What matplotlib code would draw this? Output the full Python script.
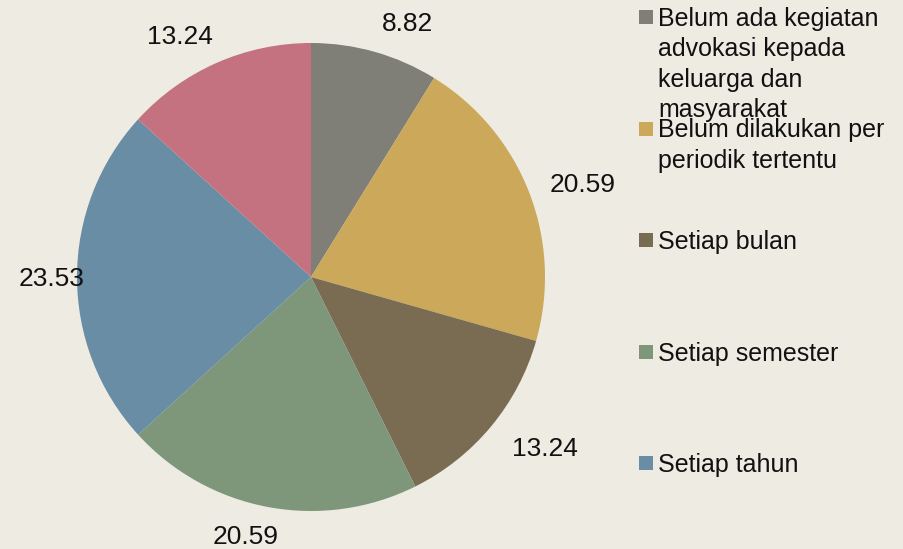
import matplotlib
matplotlib.use("Agg")
import matplotlib.pyplot as plt
import numpy as np

# values, clockwise from 12 o'clock
values = [8.82, 20.59, 13.24, 20.59, 23.53, 13.24]
legend_labels = [
    "Belum ada kegiatan\nadvokasi kepada\nkeluarga dan\nmasyarakat",
    "Belum dilakukan per\nperiodik tertentu",
    "Setiap bulan",
    "Setiap semester",
    "Setiap tahun",
]
colors = ["#7f7f77", "#cca95a", "#796c52", "#7e967a", "#688da5", "#c4727f"]

# label placement: radius factor and angle shift (deg) from the wedge middle
label_dist = [1.167, 1.227, 1.235, 1.137, 1.107, 1.175]
label_shift = [-4.9, -2.1, 3.7, -3.7, 0.0, 4.6]

bg = "#eeebe3"
W, H = 904, 549

fig = plt.figure(figsize=(W / 100, H / 100), dpi=100, facecolor=bg)
# pie centre (311, 277) px, radius 234 px
ax = fig.add_axes([(311 - 234) / W, (H - 277 - 234) / H, 468 / W, 468 / H])
ax.set_facecolor(bg)

wedges, _ = ax.pie(values, colors=colors, startangle=90, counterclock=False,
                   radius=1.0, wedgeprops=dict(linewidth=0))
ax.set_xlim(-1, 1)
ax.set_ylim(-1, 1)
ax.set_aspect("equal")
ax.axis("off")

for w, v, d, s in zip(wedges, values, label_dist, label_shift):
    ang = np.deg2rad((w.theta1 + w.theta2) / 2 + s)
    ax.text(d * np.cos(ang), d * np.sin(ang) - 0.008, f"{v:.2f}", ha="center",
            va="center", fontsize=19, family="Liberation Sans", color="#111111",
            clip_on=False)

# legend drawn by hand (entries evenly spaced, as in the original)
for i, (lab, col) in enumerate(zip(legend_labels, colors)):
    yc = 17 + i * 111.5
    fig.patches.append(plt.Rectangle((639 / W, 1 - (yc + 7) / H), 14 / W, 14 / H,
                                     transform=fig.transFigure, facecolor=col,
                                     edgecolor="none"))
    fig.text(658 / W, 1 - (yc - 10) / H, lab, ha="left", va="top", fontsize=18,
             family="Liberation Sans", color="#111111", linespacing=1.33)

fig.savefig("out.png", dpi=100, facecolor=bg)
